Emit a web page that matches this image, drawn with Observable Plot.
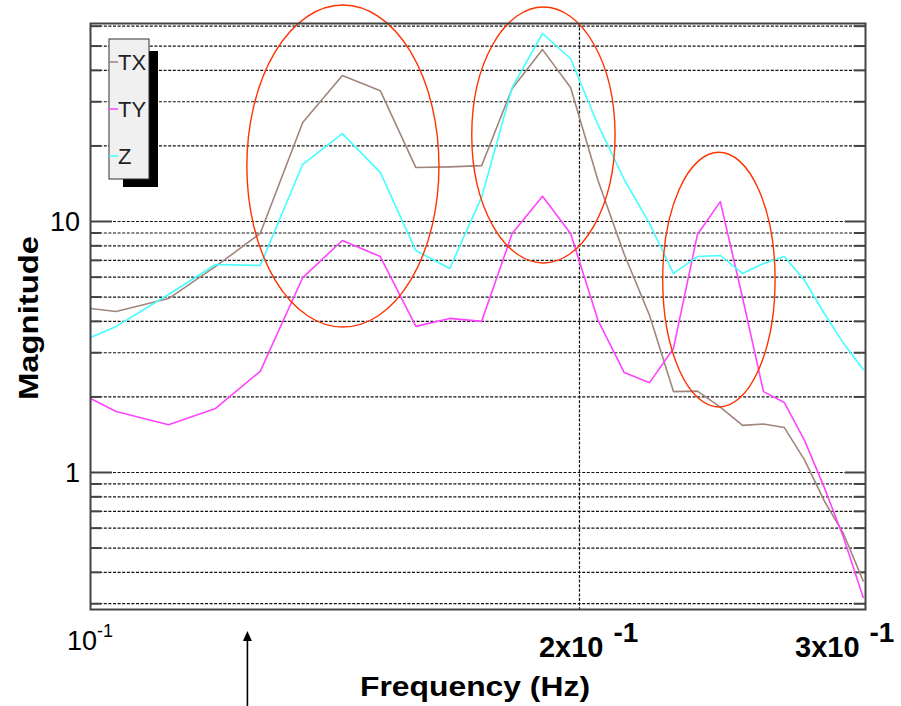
<!DOCTYPE html>
<html><head><meta charset="utf-8">
<script src="https://cdn.jsdelivr.net/npm/d3@7"></script>
<script src="https://cdn.jsdelivr.net/npm/@observablehq/plot@0.6"></script>
<style>body{margin:0;background:#fff} #chart{width:901px;height:706px}</style>
</head><body><div id="chart"></div>
<script>
// ---- data ----
const freqs = [0.1000, 0.1037, 0.1117, 0.1194, 0.1272, 0.1351, 0.1429, 0.1508, 0.1586, 0.1664, 0.1741, 0.1818, 0.1898, 0.1975, 0.2053, 0.2131, 0.2209, 0.2285, 0.2364, 0.2442, 0.2520, 0.2596, 0.2674, 0.2752, 0.2830, 0.2908, 0.2990];
const seriesNames = ["TX", "TY", "Z"];
const seriesColors = ["#a0867c", "#ff44ff", "#44ffff"];
const txValues = [4.50, 4.38, 4.93, 6.62, 8.96, 24.8, 38.2, 33.2, 16.4, 16.5, 16.7, 33.9, 48.4, 34.2, 14.6, 7.4, 4.22, 2.10, 2.11, 1.82, 1.54, 1.56, 1.51, 1.12, 0.77, 0.57, 0.37];
const tyValues = [1.97, 1.75, 1.55, 1.80, 2.53, 5.98, 8.40, 7.25, 3.82, 4.11, 4.00, 8.96, 12.6, 8.96, 4.05, 2.50, 2.28, 3.12, 8.87, 12.0, 4.98, 2.10, 1.90, 1.34, 0.87, 0.551, 0.318];
const zValues  = [3.45, 3.82, 5.12, 6.74, 6.68, 16.9, 22.4, 15.7, 7.66, 6.50, 12.5, 34.2, 56.1, 44.5, 24.3, 14.7, 9.8, 6.21, 7.25, 7.32, 6.21, 6.80, 7.25, 5.82, 4.30, 3.27, 2.57];

const yGridValues = [0.3, 0.4, 0.5, 0.6, 0.7, 0.8, 0.9, 1, 2, 3, 4, 5, 6, 7, 8, 9, 10, 20, 30, 40, 50, 60];
const yMajorValues = [1, 10];
const yTickLabels = ["1", "10"];
const xGridValues = [0.2];
const xTickValues = [0.1, 0.2, 0.3];
const xTickBase = ["10", "2x10", "3x10"];
const xTickExp = ["-1", "-1", "-1"];

// annotation ellipses (bounding boxes in data units)
const ellipseFreqLo = [0.1249, 0.1718, 0.2252];
const ellipseFreqHi = [0.1640, 0.2105, 0.2641];
const ellipseMagLo  = [3.78, 6.80, 1.815];
const ellipseMagHi  = [72.5, 71.2, 18.8];
const arrowFreq = [0.125];

const xTitle = "Frequency (Hz)";
const yTitle = "Magnitude";

// ---- tables ----
const seriesValues = [txValues, tyValues, zValues];
const rows = seriesNames.flatMap((s, i) => freqs.map((f, j) => ({freq: f, mag: seriesValues[i][j], series: s})));
const minorValues = yGridValues.filter(v => !yMajorValues.includes(v));
const ellipses = ellipseFreqLo.map((f, i) => ({f1: f, f2: ellipseFreqHi[i], m1: ellipseMagLo[i], m2: ellipseMagHi[i]}));

const W = 901, H = 706, ML = 90, MR = 36, MT = 23, MB = 97;
const FW = W - ML - MR;
const FONT = "'Liberation Sans', Arial, Helvetica, sans-serif";

function getScale(scales, k) { return scales[k] || (scales.scales && scales.scales[k]); }

function ellipseMark(index, scales, values, dim) {
  const sx = getScale(scales, "x"), sy = getScale(scales, "y");
  const g = d3.create("svg:g");
  for (const e of ellipses) {
    const x1 = sx(e.f1), x2 = sx(e.f2), y1 = sy(e.m2), y2 = sy(e.m1);
    g.append("ellipse").attr("cx", (x1 + x2) / 2).attr("cy", (y1 + y2) / 2)
      .attr("rx", (x2 - x1) / 2).attr("ry", (y2 - y1) / 2)
      .attr("fill", "none").attr("stroke", "#ff3300").attr("stroke-width", 1.4);
  }
  return g.node();
}

function arrowMark(index, scales, values, dim) {
  const sx = getScale(scales, "x");
  const g = d3.create("svg:g");
  for (const f of arrowFreq) {
    const x = sx(f), yTip = dim.height - 75, yEnd = dim.height;
    g.append("line").attr("x1", x).attr("x2", x).attr("y1", yTip + 8).attr("y2", yEnd)
      .attr("stroke", "#000").attr("stroke-width", 1.6);
    g.append("path").attr("d", `M${x},${yTip}L${x - 4.5},${yTip + 10}L${x + 4.5},${yTip + 10}Z`).attr("fill", "#000");
  }
  return g.node();
}

function legendMark(index, scales, values, dim) {
  const g = d3.create("svg:g");
  const bx = dim.marginLeft + 19, by = dim.marginTop + 16, bw = 40, bh = 140;
  g.append("rect").attr("x", bx + 14).attr("y", by + 12).attr("width", bw - 5).attr("height", bh - 4).attr("fill", "#000");
  g.append("rect").attr("x", bx).attr("y", by).attr("width", bw).attr("height", bh)
    .attr("fill", "#f0f0f0").attr("stroke", "#333").attr("stroke-width", 1);
  seriesNames.forEach((s, i) => {
    const y = by + 23 + i * 47;
    g.append("line").attr("x1", bx).attr("x2", bx + 9).attr("y1", y).attr("y2", y)
      .attr("stroke", seriesColors[i]).attr("stroke-width", 1.5);
    g.append("text").attr("x", bx + 9).attr("y", y).attr("dy", "0.36em").attr("text-anchor", "start")
      .attr("font-family", FONT).attr("font-size", 22).attr("fill", "#222").text(s);
  });
  return g.node();
}

function labelsMark(index, scales, values, dim) {
  const sx = getScale(scales, "x"), sy = getScale(scales, "y");
  const g = d3.create("svg:g").attr("font-family", FONT).attr("fill", "#000");
  const bottom = dim.height - dim.marginBottom;
  // y tick labels
  yMajorValues.forEach((v, i) => {
    g.append("text").attr("x", dim.marginLeft - 10).attr("y", sy(v)).attr("dy", "0.36em")
      .attr("text-anchor", "end").attr("font-size", 27).text(yTickLabels[i]);
  });
  // x tick labels
  const styles = [
    {dx: -23, dy: 41, bold: false, size: 27, supSize: 18, supDx: 0, supDy: -13},
    {dx: -40, dy: 48, bold: true, size: 29, supSize: 28, supDx: 10, supDy: -15},
    {dx: -70, dy: 48, bold: true, size: 29, supSize: 28, supDx: 10, supDy: -15}
  ];
  xTickValues.forEach((v, i) => {
    const st = styles[i];
    const t = g.append("text").attr("x", sx(v) + st.dx).attr("y", bottom + st.dy)
      .attr("text-anchor", "start").attr("font-weight", st.bold ? "bold" : "normal");
    t.append("tspan").attr("font-size", st.size).text(xTickBase[i]);
    t.append("tspan").attr("font-size", st.supSize).attr("dx", st.supDx).attr("dy", st.supDy).text(xTickExp[i]);
  });
  // axis titles
  g.append("text").attr("x", 475).attr("y", dim.height - 10)
    .attr("text-anchor", "middle").attr("font-weight", "bold").attr("font-size", 28)
    .attr("textLength", 230).attr("lengthAdjust", "spacingAndGlyphs").text(xTitle);
  g.append("text").attr("transform", `translate(38,${(dim.marginTop + dim.height - dim.marginBottom) / 2 + 2}) rotate(-90)`)
    .attr("text-anchor", "middle").attr("font-weight", "bold").attr("font-size", 28)
    .attr("textLength", 164).attr("lengthAdjust", "spacingAndGlyphs").text(yTitle);
  return g.node();
}

const chart = Plot.plot({
  width: W, height: H,
  marginLeft: ML, marginRight: MR, marginTop: MT, marginBottom: MB,
  style: {background: "#fff", overflow: "visible"},
  x: {type: "log", domain: [0.1, 0.3], axis: null},
  y: {type: "log", domain: [0.2845, 61.5], axis: null},
  color: {domain: seriesNames, range: seriesColors, legend: false},
  marks: [
    Plot.ruleY(yGridValues, {stroke: "#111", strokeWidth: 1.2, strokeDasharray: "3,1.6"}),
    Plot.ruleX(xGridValues, {stroke: "#111", strokeWidth: 1.2, strokeDasharray: "3,1.6"}),
    Plot.ruleY(minorValues, {insetRight: FW - 11, stroke: "#444", strokeWidth: 2}),
    Plot.ruleY(minorValues, {insetLeft: FW - 11, stroke: "#444", strokeWidth: 2}),
    Plot.ruleY(yMajorValues, {insetRight: FW - 22, stroke: "#444", strokeWidth: 2}),
    Plot.ruleY(yMajorValues, {insetLeft: FW - 20, stroke: "#444", strokeWidth: 2}),
    Plot.line(rows, {x: "freq", y: "mag", z: "series", stroke: "series", strokeWidth: 1.6}),
    ellipseMark,
    Plot.frame({stroke: "#444", strokeWidth: 2}),
    legendMark,
    labelsMark,
    arrowMark
  ]
});
document.getElementById("chart").append(chart);
</script>
</body></html>
